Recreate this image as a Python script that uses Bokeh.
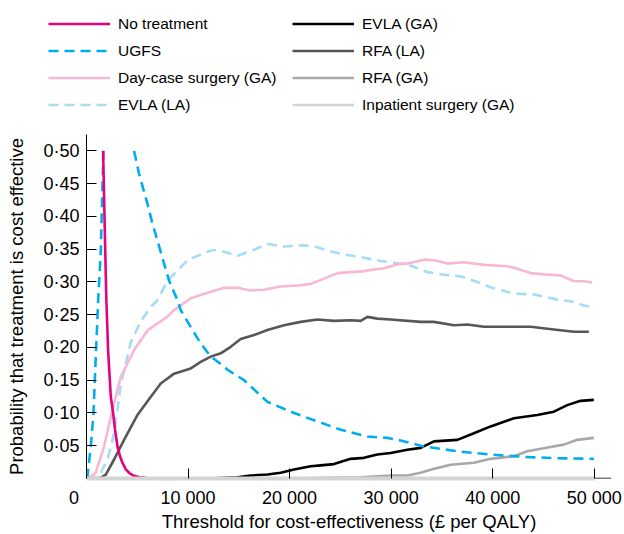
import numpy as np
from bokeh.plotting import figure
from bokeh.layouts import column
from bokeh.models import Range1d, FixedTicker, Legend, LegendItem, Span
from bokeh.embed import file_html
from bokeh.resources import INLINE

# ---------------- data ----------------
no_treatment_x = [1634, 1800, 1950, 2126, 2392, 2618, 2815, 3051, 3300, 3543, 3868, 4250, 4656, 5250, 5837]
no_treatment_y = [0.50, 0.38, 0.275, 0.196, 0.125, 0.100, 0.074, 0.049, 0.034, 0.024, 0.014, 0.008, 0.004, 0.002, 0.001]

# UGFS leaves the chart above 0.50 between the two branches (gap = NaN)
ugfs_x = [0, 100, 250, 423, 560, 689, 817, 984, 1142, 1280, 1408, 1535, 1673, 3000,
          4685, 5177, 6004, 6496, 6988, 7638, 8130, 8957, 9282, 10266, 11250, 12240, 13544,
          13878, 15513, 17816, 20434, 22737, 25031, 27658, 29627, 30937, 33230, 36517,
          39795, 43073, 46361, 49963]
ugfs_y = [0.0, 0.003, 0.025, 0.049, 0.075, 0.100, 0.150, 0.210, 0.270, 0.310, 0.348, 0.424, 0.50, np.nan,
          0.50, 0.465, 0.419, 0.389, 0.363, 0.328, 0.302, 0.272, 0.257, 0.231, 0.206, 0.186, 0.171,
          0.166, 0.150, 0.117, 0.100, 0.087, 0.0745, 0.064, 0.062, 0.058, 0.049, 0.0415,
          0.0365, 0.033, 0.031, 0.030]

daycase_x = [0, 256, 915, 1732, 2559, 3376, 4685, 6004, 7973, 8622, 10266, 12240, 13544, 14863,
             16172, 17481, 19125, 21094, 22078, 23387, 24706, 26015, 27324, 28309, 29293, 30937,
             31596, 33230, 34214, 35533, 37167, 39136, 41439, 42424, 43733, 45042, 46686, 47994,
             48979, 49800]
daycase_y = [0.0, 0.001, 0.009, 0.049, 0.105, 0.155, 0.196, 0.226, 0.247, 0.257, 0.275, 0.285, 0.291, 0.291,
             0.287, 0.288, 0.293, 0.295, 0.297, 0.305, 0.3135, 0.315, 0.3165, 0.319, 0.321, 0.328,
             0.328, 0.334, 0.333, 0.328, 0.330, 0.326, 0.324, 0.320, 0.3135, 0.3115, 0.310, 0.301,
             0.301, 0.299]

evla_la_x = [0, 748, 1408, 2067, 2717, 3376, 4360, 5345, 6329, 6988, 7973, 9941, 11575, 12235,
             12894, 14863, 16172, 17816, 19450, 21418, 22737, 24046, 25356, 27324, 28968, 29952,
             31921, 33565, 35199, 36832, 38486, 39795, 42089, 44057, 46361, 47669, 48978, 49600]
evla_la_y = [0.0, 0.001, 0.009, 0.029, 0.069, 0.143, 0.208, 0.240, 0.262, 0.272, 0.302, 0.333, 0.344, 0.348,
             0.349, 0.340, 0.347, 0.358, 0.354, 0.356, 0.353, 0.3465, 0.342, 0.337, 0.332, 0.330,
             0.325, 0.315, 0.311, 0.3085, 0.300, 0.292, 0.282, 0.281, 0.273, 0.2705, 0.264, 0.262]

evla_ga_x = [0, 12000, 14863, 16172, 17816, 19125, 20434, 22078, 23062, 24371, 26015, 27324, 28643,
             29952, 31596, 32904, 34214, 36517, 38151, 39795, 42089, 44386, 46026, 47344, 48653, 49963]
evla_ga_y = [0.0, 0.0, 0.002, 0.0046, 0.006, 0.0087, 0.0137, 0.0187, 0.020, 0.022, 0.030, 0.0315, 0.0365,
             0.039, 0.044, 0.0467, 0.0567, 0.059, 0.069, 0.0795, 0.092, 0.097, 0.102, 0.112, 0.1185, 0.120]

rfa_la_x = [0, 1408, 1900, 2717, 3701, 5020, 6004, 7313, 8622, 10266, 11250, 12235, 13219, 14203,
            15187, 16497, 17816, 19450, 21094, 22737, 24371, 26015, 26999, 27658, 28643, 29952,
            32904, 34214, 36183, 37502, 39136, 43733, 46026, 47994, 49470]
rfa_la_y = [0.0, 0.001, 0.006, 0.029, 0.059, 0.097, 0.118, 0.145, 0.160, 0.168, 0.178, 0.186, 0.191, 0.201,
            0.2128, 0.219, 0.2265, 0.234, 0.239, 0.2427, 0.2406, 0.2416, 0.2406, 0.2467, 0.244, 0.2427,
            0.239, 0.239, 0.234, 0.235, 0.2315, 0.2315, 0.2275, 0.224, 0.224]

rfa_ga_x = [0, 20000, 24000, 27000, 29952, 31596, 32904, 34214, 35856, 38151, 39795, 42089, 43407,
            45700, 47010, 48328, 49963]
rfa_ga_y = [0.0, 0.0, 0.001, 0.002, 0.0046, 0.0046, 0.0087, 0.0147, 0.021, 0.024, 0.030, 0.034, 0.0415,
            0.048, 0.0517, 0.059, 0.062]

inpatient_x = [0, 10000, 20000, 30000, 40000, 50000]
inpatient_y = [0.0, 0.0, 0.0, 0.0, 0.0, 0.0]

x_ticks = [0, 10000, 20000, 30000, 40000, 50000]
x_tick_labels = ["0\u00a0\u00a0\u00a0\u00a0\u00a0", "10 000", "20 000", "30 000", "40 000", "50 000"]
y_ticks = [0.05, 0.10, 0.15, 0.20, 0.25, 0.30, 0.35, 0.40, 0.45, 0.50]
y_tick_labels = ["0·05", "0·10", "0·15", "0·20", "0·25", "0·30", "0·35", "0·40", "0·45", "0·50"]

x_title = "Threshold for cost-effectiveness (£ per QALY)"
y_title = "Probability that treatment is cost effective"

legend_left = ["No treatment", "UGFS", "Day-case surgery (GA)", "EVLA (LA)"]
legend_right = ["EVLA (GA)", "RFA (LA)", "RFA (GA)", "Inpatient surgery (GA)"]

# ---------------- styles ----------------
FONT = "Liberation Sans"
series = [
    # name, x, y, colour, dash
    ("EVLA (GA)", evla_ga_x, evla_ga_y, "#000000", "solid"),
    ("RFA (GA)", rfa_ga_x, rfa_ga_y, "#A8A8A8", "solid"),
    ("RFA (LA)", rfa_la_x, rfa_la_y, "#575757", "solid"),
    ("EVLA (LA)", evla_la_x, evla_la_y, "#A5DCF7", "10 6"),
    ("Day-case surgery (GA)", daycase_x, daycase_y, "#F8B8D4", "solid"),
    ("UGFS", ugfs_x, ugfs_y, "#00AEEF", "10 6"),
    ("No treatment", no_treatment_x, no_treatment_y, "#E6007E", "solid"),
    ("Inpatient surgery (GA)", inpatient_x, inpatient_y, "#D4D4D4", "solid"),
]
LW = 2.6

# ---------------- legend strip (top) ----------------
# the same series are attached here as hidden renderers, only to key the legend
LEG_H = 120
leg_fig = figure(width=624, height=LEG_H, output_backend="svg", toolbar_location=None,
                 x_axis_location=None, y_axis_location=None,
                 x_range=Range1d(0, 1), y_range=Range1d(0, 1),
                 min_border=0, min_border_left=0, min_border_right=0,
                 min_border_top=0, min_border_bottom=0, frame_align=False)
leg_fig.grid.visible = False
leg_fig.outline_line_color = None

leg_renderers = {}
for name, xs, ys, col, dash in series:
    r = leg_fig.line(np.array(xs, dtype=float), np.array(ys, dtype=float),
                     line_color=col, line_width=LW, line_dash=dash)
    r.visible = False
    leg_renderers[name] = r


def make_legend(names, loc):
    leg = Legend(items=[LegendItem(label=n, renderers=[leg_renderers[n]]) for n in names],
                 location=loc, orientation="vertical")
    leg.border_line_color = None
    leg.background_fill_alpha = 0
    leg.inactive_fill_alpha = 0
    leg.padding = 0
    leg.margin = 0
    leg.spacing = 0
    leg.glyph_width = 62
    leg.glyph_height = 27
    leg.label_height = 27
    leg.label_standoff = 8
    leg.label_text_font = FONT
    leg.label_text_font_size = "15.5px"
    leg.label_text_color = "black"
    return leg


leg_fig.add_layout(make_legend(legend_left, (48, 2)))
leg_fig.add_layout(make_legend(legend_right, (292, 2)))

# ---------------- main chart ----------------
p = figure(width=624, height=534 - LEG_H, output_backend="svg", toolbar_location=None,
           x_range=Range1d(0, 51700), y_range=Range1d(0, 0.525),
           min_border_left=86, min_border_right=13, min_border_top=14, min_border_bottom=55,
           frame_align=False)
p.grid.visible = False
p.outline_line_color = None

# thin black baseline, visible only past the last threshold where the grey axis band stops
p.add_layout(Span(location=0, dimension="width", line_color="black", line_width=1.5, level="underlay"))

for name, xs, ys, col, dash in series:
    p.line(np.array(xs, dtype=float), np.array(ys, dtype=float),
           line_color=col, line_width=LW, line_dash=dash, line_join="round")

xa = p.xaxis[0]
ya = p.yaxis[0]
xa.ticker = FixedTicker(ticks=x_ticks)
xa.major_label_overrides = {t: l for t, l in zip(x_ticks, x_tick_labels)}
ya.ticker = FixedTicker(ticks=y_ticks)
ya.major_label_overrides = {t: l for t, l in zip(y_ticks, y_tick_labels)}

for ax in (xa, ya):
    ax.major_tick_in = 10
    ax.major_tick_out = 0
    ax.minor_tick_in = 0
    ax.minor_tick_out = 0
    ax.major_tick_line_color = "black"
    ax.major_tick_line_width = 1
    ax.major_label_text_font = FONT
    ax.major_label_text_font_size = "18px"
    ax.major_label_text_color = "black"
    ax.axis_label_text_font = FONT
    ax.axis_label_text_font_size = "18.5px"
    ax.axis_label_text_font_style = "normal"
    ax.axis_label_text_color = "black"

ya.axis_line_color = "black"
ya.axis_line_width = 1
ya.major_label_standoff = 7
ya.axis_label = y_title
ya.axis_label_standoff = 13

xa.axis_line_color = "#D4D4D4"
xa.axis_line_width = 4
xa.bounds = (0, 50000)
xa.major_label_standoff = 9
xa.axis_label = x_title
xa.axis_label_standoff = 0

layout = column(leg_fig, p)
open("out.html", "w").write(file_html(layout, INLINE))
